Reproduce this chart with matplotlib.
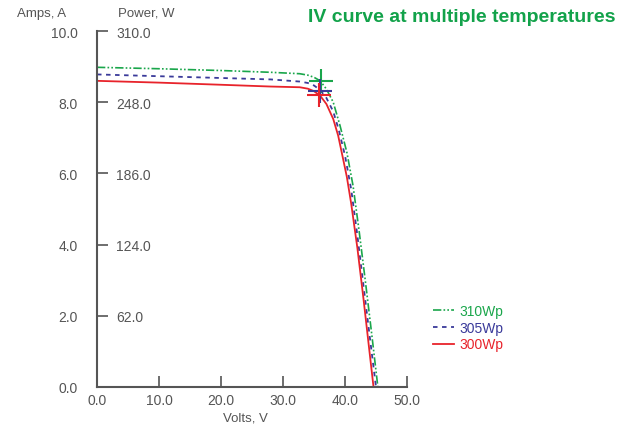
import matplotlib
matplotlib.use("Agg")
import matplotlib.pyplot as plt

# IV curves (volts, amps)
v_300 = [0, 10, 20, 28, 32.7, 34.0, 35.0, 36.0, 37.0, 38.1, 38.9, 39.7, 40.3, 41.0, 42.0, 43.0, 43.9, 44.6]
i_300 = [8.60, 8.55, 8.49, 8.44, 8.42, 8.38, 8.31, 8.18, 7.95, 7.53, 7.06, 6.40, 5.90, 5.15, 3.90, 2.45, 1.07, 0.0]

v_305 = [0, 10, 20, 28, 32.7, 34.0, 35.0, 36.0, 37.0, 38.1, 39.0, 40.0, 41.0, 42.0, 43.0, 44.0, 45.0]
i_305 = [8.78, 8.73, 8.68, 8.64, 8.58, 8.54, 8.47, 8.34, 8.12, 7.74, 7.22, 6.50, 5.55, 4.25, 2.82, 1.40, 0.0]

v_310 = [0, 10, 20, 28, 32.7, 34.0, 35.0, 36.0, 37.0, 38.1, 39.2, 40.3, 41.3, 42.3, 43.3, 44.3, 45.3]
i_310 = [8.98, 8.94, 8.89, 8.84, 8.80, 8.76, 8.70, 8.60, 8.37, 8.00, 7.34, 6.59, 5.65, 4.35, 2.95, 1.50, 0.0]

# max power points
mpp_v = [36.1, 36.0, 35.8]
mpp_i = [8.60, 8.32, 8.19]

labels = ["310Wp", "305Wp", "300Wp"]
colors = ["#1aa64b", "#3a3a9a", "#e8232b"]

amp_ticks = [0, 2, 4, 6, 8, 10]
power_ticks = [62, 124, 186, 248, 310]
volt_ticks = [0, 10, 20, 30, 40, 50]

gray = "#555555"
plt.rcParams["font.family"] = ["Liberation Sans", "DejaVu Sans"]

fig = plt.figure(figsize=(6.31, 4.27), dpi=100)
ax = fig.add_axes([97 / 631, 39 / 427, 310 / 631, 356 / 427])

ax.plot(v_310, i_310, color=colors[0], lw=1.2, dashes=(5, 1.3, 1, 1.3, 1, 1.3), label=labels[0])
ax.plot(v_305, i_305, color=colors[1], lw=1.3, dashes=(2.5, 2.5), label=labels[1])
ax.plot(v_300, i_300, color=colors[2], lw=1.3, label=labels[2])

for k in range(3):
    ax.plot(mpp_v[k], mpp_i[k], marker="+", ms=17, mew=1.5, color=colors[k], ls="none")

ax.set_xlim(0, 50)
ax.set_ylim(0, 10)
ax.set_xticks(volt_ticks)
ax.set_xticklabels([f"{t:.1f}" for t in volt_ticks])
ax.set_yticks(amp_ticks)
ax.set_yticklabels([f"{t:.1f}" for t in amp_ticks])

for s in ["top", "right"]:
    ax.spines[s].set_visible(False)
for s in ["left", "bottom"]:
    ax.spines[s].set_color(gray)
    ax.spines[s].set_linewidth(1.5)

ax.tick_params(axis="both", direction="in", length=8, width=1.2, color=gray,
               labelcolor=gray, labelsize=10)
ax.tick_params(axis="y", pad=14)
ax.tick_params(axis="x", pad=4)

# power labels sit just right of the left axis
ax2 = ax.twinx()
ax2.set_ylim(0, 310)
ax2.set_yticks(power_ticks)
ax2.set_yticklabels([f"{t:.1f}" for t in power_ticks])
ax2.spines["right"].set_position(("axes", 0))
for s in ax2.spines.values():
    s.set_visible(False)
ax2.tick_params(axis="y", length=0, pad=14, labelcolor=gray, labelsize=10)

fig.text(42 / 631, 1 - 14 / 427, "Amps, A", ha="center", va="center", color=gray, fontsize=9.5)
fig.text(118 / 631, 1 - 14 / 427, "Power, W", ha="left", va="center", color=gray, fontsize=9.5)
fig.text(245 / 631, 1 - 419 / 427, "Volts, V", ha="center", va="center", color=gray, fontsize=9.5)
fig.text(615 / 631, 1 - 18 / 427, "IV curve at multiple temperatures", ha="right", va="center",
         color="#12a24a", fontsize=14, fontweight="bold")

leg = ax.legend(loc="upper left", bbox_to_anchor=(426 / 631, 1 - 298 / 427),
                bbox_transform=fig.transFigure, frameon=False, fontsize=10,
                handlelength=1.5, handletextpad=0.4, labelspacing=0.2, borderpad=0,
                labelcolor="linecolor")

fig.savefig("out.png", dpi=100)
